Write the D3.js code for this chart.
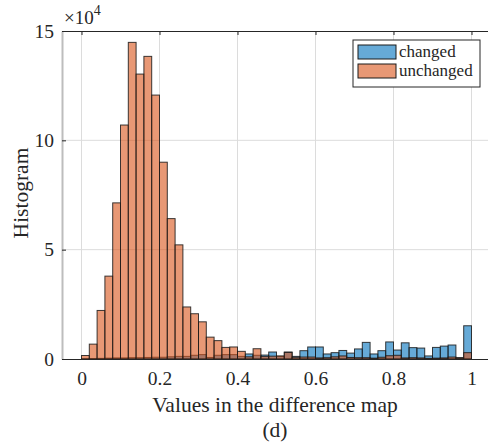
<!DOCTYPE html>
<html>
<head>
<meta charset="utf-8">
<script src="https://cdn.jsdelivr.net/npm/d3@7"></script>
<style>
  html, body { margin: 0; padding: 0; background: #fff; }
  svg { display: block; font-family: "Liberation Serif", "Times New Roman", serif; }
</style>
</head>
<body>
<svg id="chart" width="488" height="445"></svg>
<script>
// Histogram bins: 50 bins of width 0.02 over [0, 1]
const binWidth = 0.02;
const binStarts = d3.range(50).map(i => +(i * binWidth).toFixed(2));

// Counts per bin for the two classes
const changedCounts = [
  100, 200, 300, 400, 500, 500, 600, 600, 700, 800,
  800, 1000, 1200, 1200, 1700, 2000, 700, 1700, 2000, 2000,
  1200, 2300, 1700, 1800, 3200, 1200, 3200, 1200, 3800, 5500,
  5500, 2300, 2900, 3900, 2700, 4600, 7600, 2300, 3800, 7800,
  4100, 7400, 5200, 5000, 1400, 5300, 5900, 6400, 600, 15200
];
const unchangedCounts = [
  1600, 6800, 22200, 37900, 71400, 107000, 144800, 130300, 138400, 120700,
  90000, 64200, 52200, 23800, 20700, 17000, 10000, 8400, 5300, 5500,
  3500, 1000, 4700, 1200, 1300, 1400, 3000, 800, 900, 900,
  500, 600, 1000, 1400, 700, 600, 600, 400, 800, 1500,
  1700, 500, 600, 500, 300, 400, 500, 900, 500, 2900
];

const xTicks = [0, 0.2, 0.4, 0.6, 0.8, 1];
const yTicks = [0, 50000, 100000, 150000];
const seriesNames = ["changed", "unchanged"];
const seriesColors = ["rgb(0,114,189)", "rgb(217,83,25)"];
const faceAlpha = 0.6;
const FONT = "Liberation Serif";
const INK = "#262626";

const svg = d3.select("#chart");
const margin = { left: 62, top: 31, right: -3, bottom: 86 };
const W = 488, H = 445;

const x = d3.scaleLinear().domain([-0.05, 1.05]).range([margin.left, W - margin.right]);
const y = d3.scaleLinear().domain([0, 150000]).range([H - margin.bottom, margin.top]);

// grid
const grid = svg.append("g");
grid.selectAll("line.gx").data(xTicks).enter().append("line")
  .attr("x1", d => x(d)).attr("x2", d => x(d))
  .attr("y1", y(150000)).attr("y2", y(0))
  .attr("stroke", "#dcdcdc").attr("stroke-width", 1);
grid.selectAll("line.gy").data(yTicks.slice(1, 3)).enter().append("line")
  .attr("x1", x(-0.05)).attr("x2", x(1.05))
  .attr("y1", d => y(d)).attr("y2", d => y(d))
  .attr("stroke", "#dcdcdc").attr("stroke-width", 1);

// bars: changed drawn first, unchanged on top, both semi-transparent
[changedCounts, unchangedCounts].forEach((counts, k) => {
  svg.append("g").selectAll("rect").data(counts).enter().append("rect")
    .attr("x", (d, i) => x(binStarts[i]))
    .attr("width", (d, i) => x(binStarts[i] + binWidth) - x(binStarts[i]))
    .attr("y", d => y(d))
    .attr("height", d => y(0) - y(d))
    .attr("fill", seriesColors[k])
    .attr("fill-opacity", faceAlpha)
    .attr("stroke", "#1a1a1a")
    .attr("stroke-opacity", 0.85)
    .attr("stroke-width", 1);
});

// axes
const xAxis = d3.axisBottom(x).tickValues(xTicks).tickSize(0).tickPadding(12)
  .tickFormat(d => d === 0 || d === 1 ? String(d) : d.toFixed(1));
const gx = svg.append("g").attr("transform", `translate(0,${y(0)})`).call(xAxis);
gx.attr("font-family", FONT);
gx.select(".domain").attr("stroke", INK);
gx.selectAll("text").attr("font-size", 19.5).attr("fill", INK);

// top box edge with inward ticks
const gTop = svg.append("g").attr("transform", `translate(0,${y(150000)})`)
  .call(d3.axisTop(x).tickValues(xTicks).tickSizeInner(-4).tickSizeOuter(0).tickFormat(""));
gTop.selectAll("line").attr("stroke", INK);
gTop.select(".domain").attr("stroke", INK);

const yAxis = d3.axisLeft(y).tickValues(yTicks).tickSizeInner(-4).tickSizeOuter(0)
  .tickPadding(8).tickFormat(d => String(d / 10000));
const gy = svg.append("g").attr("transform", `translate(${x(-0.05)},0)`).call(yAxis);
gy.attr("font-family", FONT);
gy.select(".domain").attr("stroke", "#bdbdbd").attr("stroke-width", 2);
gy.selectAll("line").attr("stroke", INK);
gy.selectAll("text").attr("font-size", 19.5).attr("fill", INK);

// exponent label
const expo = svg.append("text").attr("x", 64).attr("y", 24)
  .attr("font-size", 19).attr("fill", INK);
expo.append("tspan").text("×10");
expo.append("tspan").attr("dy", -9).attr("font-size", 14).text("4");

// axis labels and caption
svg.append("text").attr("x", 275).attr("y", 412).attr("text-anchor", "middle")
  .attr("font-size", 21.5).attr("fill", INK).text("Values in the difference map");
svg.append("text").attr("x", 275).attr("y", 437).attr("text-anchor", "middle")
  .attr("font-size", 21.5).attr("fill", INK).text("(d)");
svg.append("text").attr("transform", "translate(28,193) rotate(-90)")
  .attr("text-anchor", "middle").attr("font-size", 21.5).attr("fill", INK).text("Histogram");

// legend
const lg = svg.append("g").attr("transform", "translate(353,40)");
lg.append("rect").attr("width", 127).attr("height", 47)
  .attr("fill", "#fff").attr("stroke", INK).attr("stroke-width", 1);
seriesNames.forEach((name, k) => {
  lg.append("rect").attr("x", 5).attr("y", 5 + k * 19).attr("width", 38).attr("height", 14)
    .attr("fill", seriesColors[k]).attr("fill-opacity", faceAlpha)
    .attr("stroke", "#1a1a1a").attr("stroke-width", 1);
  lg.append("text").attr("x", 46).attr("y", 17 + k * 19)
    .attr("font-size", 17).attr("fill", INK).text(name);
});
</script>
</body>
</html>
